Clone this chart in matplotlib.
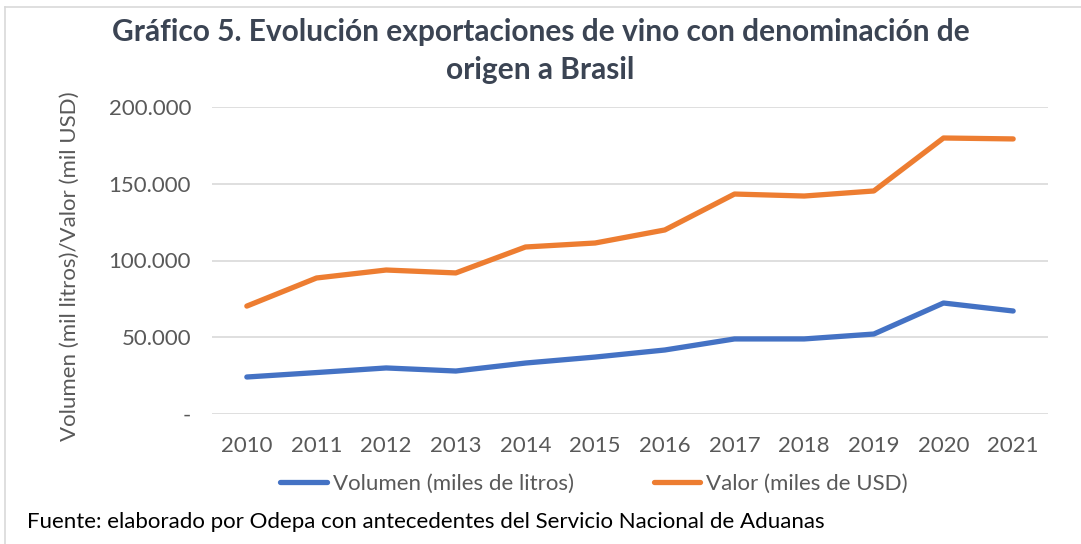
import matplotlib
matplotlib.use("Agg")
import matplotlib.pyplot as plt
from matplotlib.lines import Line2D
from matplotlib.ticker import FuncFormatter

# datos
years = ["2010", "2011", "2012", "2013", "2014", "2015",
         "2016", "2017", "2018", "2019", "2020", "2021"]
volumen = [24100, 27000, 30000, 28000, 33200, 37100,
           41700, 48900, 48900, 52100, 72300, 67100]
valor = [70300, 88600, 93800, 91900, 108800, 111400,
         119900, 143300, 142000, 145300, 179800, 179200]
yticks = [0, 50000, 100000, 150000, 200000]

gray = "#595959"
plt.rcParams['font.family'] = ['Lato', 'DejaVu Sans']

fig = plt.figure(figsize=(10.81, 5.44), dpi=100)
ax = fig.add_axes([212 / 1081, 1 - 414 / 544, (1048 - 212) / 1081, (414 - 107) / 544])

x = list(range(len(years)))
ax.plot(x, volumen, color="#4472C4", lw=3.8, solid_capstyle="round",
        solid_joinstyle="round", label="Volumen (miles de litros)")
ax.plot(x, valor, color="#ED7D31", lw=3.8, solid_capstyle="round",
        solid_joinstyle="round", label="Valor (miles de USD)")

ax.set_xlim(-0.5, len(years) - 0.5)
ax.set_ylim(0, 200000)
ax.set_xticks(x)
ax.set_xticklabels(years)
ax.set_yticks(yticks)
ax.yaxis.set_major_formatter(FuncFormatter(
    lambda v, p: "-" if v == 0 else f"{int(v):,}".replace(",", ".")))
ax.tick_params(axis="both", length=0, labelsize=16, colors=gray)
ax.tick_params(axis="y", pad=15)
ax.tick_params(axis="x", pad=16)
ax.grid(axis="y", color="#D9D9D9", lw=1.2)
ax.set_axisbelow(True)
for s in ax.spines.values():
    s.set_visible(False)

ax.set_ylabel("Volumen (mil litros)/Valor (mil USD)", fontsize=16, color=gray)
ax.yaxis.set_label_coords(-132 / 836, 0.48)

fig.text(0.5, 1 - 32 / 544, "Gráfico 5. Evolución exportaciones de vino con denominación de",
         ha="center", va="center", fontsize=21.5, fontweight="bold", color="#3B4453")
fig.text(0.5, 1 - 70 / 544, "origen a Brasil",
         ha="center", va="center", fontsize=21.5, fontweight="bold", color="#3B4453")

handles = [Line2D([], [], color="#4472C4", lw=3.8, solid_capstyle="round"),
           Line2D([], [], color="#ED7D31", lw=3.8, solid_capstyle="round")]
fig.legend(handles, ["Volumen (miles de litros)", "Valor (miles de USD)"],
           loc="center", bbox_to_anchor=(594 / 1081, 1 - 484 / 544), ncol=2,
           frameon=False, fontsize=16, labelcolor=gray, handlelength=2.1,
           handletextpad=0.25, columnspacing=3.6)

fig.text(27 / 1081, 1 - 522 / 544,
         "Fuente: elaborado por Odepa con antecedentes del Servicio Nacional de Aduanas",
         ha="left", va="center", fontsize=16, color="black")

# marco del grafico
fig.add_artist(Line2D([5 / 1081, 5 / 1081], [0, 1 - 7 / 544], color="#D9D9D9", lw=1.2))
fig.add_artist(Line2D([5 / 1081, 1], [1 - 7 / 544, 1 - 7 / 544], color="#D9D9D9", lw=1.2))

fig.savefig("out.png", dpi=100)
